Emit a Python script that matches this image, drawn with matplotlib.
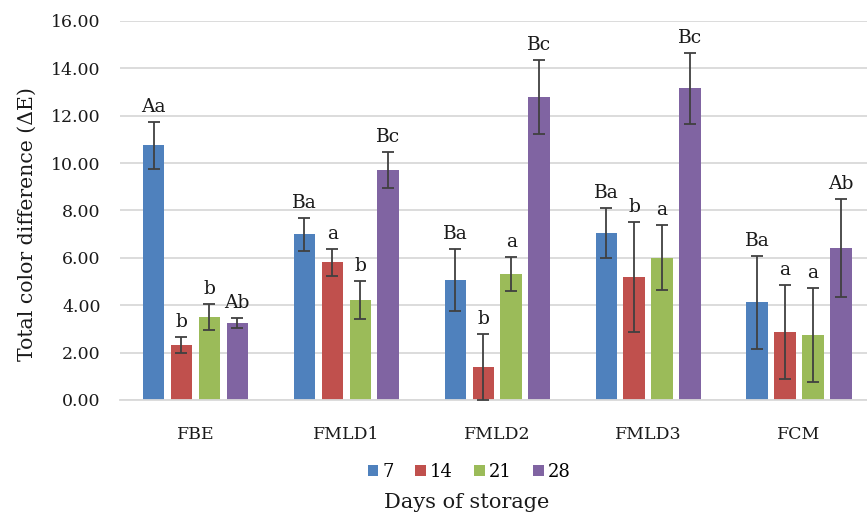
import numpy as np
import matplotlib
matplotlib.use('Agg')
import matplotlib.pyplot as plt

groups = ['FBE', 'FMLD1', 'FMLD2', 'FMLD3', 'FCM']
days = ['7', '14', '21', '28']

d7 = [10.75, 7.00, 5.06, 7.05, 4.13]
d14 = [2.32, 5.82, 1.39, 5.19, 2.87]
d21 = [3.50, 4.22, 5.32, 6.00, 2.74]
d28 = [3.25, 9.70, 12.78, 13.16, 6.41]

e7 = [1.00, 0.70, 1.30, 1.05, 1.96]
e14 = [0.33, 0.57, 1.39, 2.32, 1.98]
e21 = [0.55, 0.80, 0.70, 1.37, 1.97]
e28 = [0.20, 0.76, 1.56, 1.50, 2.07]

l7 = ['Aa', 'Ba', 'Ba', 'Ba', 'Ba']
l14 = ['b', 'a', 'b', 'b', 'a']
l21 = ['b', 'b', 'a', 'a', 'a']
l28 = ['Ab', 'Bc', 'Bc', 'Bc', 'Ab']

colors = ['#4F81BD', '#C0504D', '#9BBB59', '#8064A2']
txt = '#1a1a1a'

plt.rcParams['font.family'] = ['DejaVu Serif']

fig = plt.figure(figsize=(8.67, 5.23), dpi=100)
# plot area runs past the right edge like in the original
ax = fig.add_axes([0.1384, 0.2352, 0.8702, 0.7248])

xs = np.arange(len(groups))
step = 0.185
width = 0.142
series = [(d7, e7, l7), (d14, e14, l14), (d21, e21, l21), (d28, e28, l28)]
for i, (vals, errs, labs) in enumerate(series):
    pos = xs + (i - 1.5) * step
    ax.bar(pos, vals, width, color=colors[i], label=days[i], zorder=2)
    ax.errorbar(pos, vals, yerr=errs, fmt='none', ecolor='#404040',
                elinewidth=1.3, capsize=4, capthick=1.3, zorder=3)
    for p, v, e, t in zip(pos, vals, errs, labs):
        ax.text(p, v + e + 0.25, t, ha='center', va='bottom', fontsize=13.5,
                color=txt)

ax.set_xlim(-0.5, len(groups) - 0.5)
ax.set_ylim(0, 16)
ax.set_yticks(np.arange(0, 17, 2))
ax.set_yticklabels(['%.2f' % v for v in np.arange(0, 17, 2)])
ax.set_xticks(xs)
ax.set_xticklabels(groups)
ax.tick_params(axis='both', length=0, labelsize=12.5, colors=txt)
ax.tick_params(axis='x', pad=19)
ax.tick_params(axis='y', pad=14)
ax.grid(axis='y', color='#D9D9D9', linewidth=1.3, zorder=0)
ax.set_axisbelow(True)
for s in ['top', 'right', 'left']:
    ax.spines[s].set_visible(False)
ax.spines['bottom'].set_color('#D9D9D9')
ax.spines['bottom'].set_linewidth(1.3)

ax.set_ylabel('Total color difference (\u0394E)', fontsize=14.7, color=txt)
ax.yaxis.set_label_coords(-0.11, 0.465)
fig.text(0.538, 0.028, 'Days of storage', ha='center', fontsize=15,
         color=txt)
fig.legend(loc='center', bbox_to_anchor=(0.541, 0.098), ncol=4,
           frameon=False, fontsize=13, handlelength=0.6, handleheight=0.6,
           handletextpad=0.2, columnspacing=1.2)

fig.savefig('out.png', dpi=100)
